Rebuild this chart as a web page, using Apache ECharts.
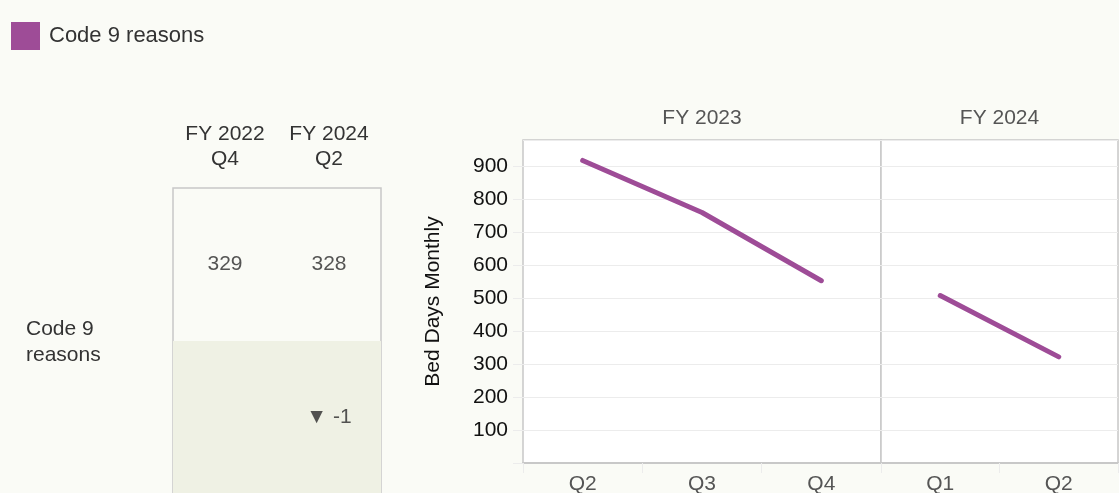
<!DOCTYPE html>
<html>
<head>
<meta charset="utf-8">
<script src="https://cdn.jsdelivr.net/npm/echarts@6/dist/echarts.min.js"></script>
<style>
  html, body { margin: 0; padding: 0; background: #fafbf6; }
  #chart { width: 1119px; height: 493px; }
</style>
</head>
<body>
<div id="chart"></div>
<script>
// table on the left
var tableCols = ['FY 2022\nQ4', 'FY 2024\nQ2'];
var tableRows = ['change', 'value'];
var tableValues = [329, 328];
var tableChange = [null, -1];
var rowLabel = 'Code 9\nreasons';

// line chart panels
var fy23Quarters = ['Q2', 'Q3', 'Q4'];
var fy23Values = [918, 760, 553];
var fy24Quarters = ['Q1', 'Q2'];
var fy24Values = [508, 322];
var panelNames = ['FY 2023', 'FY 2024'];

var seriesName = 'Code 9 reasons';
var lineColor = '#9e4c97';
var font = 'Liberation Sans, Arial, sans-serif';
var fs = 21;

var chart = echarts.init(document.getElementById('chart'));

var gridLine = { lineStyle: { color: '#ececec', width: 1 } };

function quarterAxis(data, gridIndex) {
  return {
    type: 'category',
    gridIndex: gridIndex,
    data: data,
    position: 'bottom',
    axisLine: { show: true, lineStyle: { color: '#c8c8c8', width: 2 } },
    axisTick: { show: true, length: 10, lineStyle: { color: '#ececec' } },
    axisLabel: { fontSize: fs, color: '#555', margin: 11, fontFamily: font }
  };
}

function panelAxis(name, gridIndex) {
  return {
    type: 'category',
    gridIndex: gridIndex,
    data: [name],
    position: 'top',
    axisLine: { show: false },
    axisTick: { show: false },
    axisLabel: { fontSize: fs, color: '#555', margin: 11, fontFamily: font }
  };
}

function valueAxis(gridIndex, showLabels) {
  return {
    type: 'value',
    gridIndex: gridIndex,
    min: 0,
    max: 980,
    interval: 100,
    axisLine: { show: false },
    axisTick: { show: showLabels, length: 10, lineStyle: { color: '#ececec' } },
    axisLabel: {
      show: showLabels, fontSize: fs, color: '#111', margin: 15,
      showMaxLabel: false, fontFamily: font,
      formatter: function (v) { return v === 0 ? '' : v; }
    },
    splitLine: gridLine,
    name: showLabels ? 'Bed Days Monthly' : '',
    nameLocation: 'middle',
    nameGap: 79,
    nameTextStyle: { fontSize: fs, color: '#111', fontFamily: font }
  };
}

var option = {
  backgroundColor: '#fafbf6',
  textStyle: { fontFamily: font },
  animation: false,
  legend: {
    data: [seriesName],
    left: 6,
    top: 17,
    icon: 'rect',
    itemWidth: 29,
    itemHeight: 28,
    textStyle: { fontSize: 22, color: '#333', padding: [0, 0, 0, 4], fontFamily: font }
  },
  title: {
    text: rowLabel,
    left: 21,
    top: 311,
    textStyle: { fontSize: fs, fontWeight: 'normal', color: '#333', lineHeight: 26, fontFamily: font }
  },
  grid: [
    { left: 173, top: 188, width: 208, height: 306, show: true, outerBoundsMode: 'none', borderColor: '#c8c8c8', borderWidth: 1.5, backgroundColor: 'transparent' },
    { left: 523, top: 140, width: 358, height: 323, show: true, outerBoundsMode: 'none', borderColor: '#c8c8c8', borderWidth: 1.5, backgroundColor: '#ffffff' },
    { left: 881, top: 140, width: 237, height: 323, show: true, outerBoundsMode: 'none', borderColor: '#c8c8c8', borderWidth: 1.5, backgroundColor: '#ffffff' }
  ],
  xAxis: [
    {
      type: 'category',
      gridIndex: 0,
      data: tableCols,
      position: 'top',
      axisLine: { show: false },
      axisTick: { show: false },
      axisLabel: { fontSize: fs, color: '#333', margin: 16, lineHeight: 25, fontFamily: font }
    },
    quarterAxis(fy23Quarters, 1),
    quarterAxis(fy24Quarters, 2),
    panelAxis(panelNames[0], 1),
    panelAxis(panelNames[1], 2)
  ],
  yAxis: [
    {
      type: 'category',
      gridIndex: 0,
      data: tableRows,
      axisLine: { show: false },
      axisTick: { show: false },
      axisLabel: { show: false },
      splitArea: { show: true, areaStyle: { color: ['#eff1e4', 'rgba(0,0,0,0)'] } }
    },
    valueAxis(1, true),
    valueAxis(2, false)
  ],
  series: [
    {
      type: 'scatter',
      xAxisIndex: 0,
      yAxisIndex: 0,
      symbolSize: 0,
      data: tableValues.map(function (v, i) { return [tableCols[i], 'value', v]; }),
      label: {
        show: true, position: 'inside', fontSize: fs, color: '#2a2a2a', fontFamily: font,
        textBorderWidth: 0,
        formatter: function (p) { return p.value[2]; }
      }
    },
    {
      type: 'scatter',
      xAxisIndex: 0,
      yAxisIndex: 0,
      symbolSize: 0,
      data: tableChange
        .map(function (v, i) { return v === null ? null : [tableCols[i], 'change', v]; })
        .filter(function (d) { return d !== null; }),
      label: {
        show: true, position: 'inside', fontSize: fs, color: '#2a2a2a', fontFamily: font,
        textBorderWidth: 0,
        formatter: function (p) { return (p.value[2] < 0 ? '\u25BC ' : '\u25B2 ') + p.value[2]; }
      }
    },
    {
      name: seriesName,
      type: 'line',
      xAxisIndex: 1,
      yAxisIndex: 1,
      data: fy23Values,
      showSymbol: false,
      itemStyle: { color: lineColor },
      lineStyle: { color: lineColor, width: 5, cap: 'round' }
    },
    {
      name: seriesName,
      type: 'line',
      xAxisIndex: 2,
      yAxisIndex: 2,
      data: fy24Values,
      showSymbol: false,
      itemStyle: { color: lineColor },
      lineStyle: { color: lineColor, width: 5, cap: 'round' }
    }
  ]
};

chart.setOption(option);
</script>
</body>
</html>
